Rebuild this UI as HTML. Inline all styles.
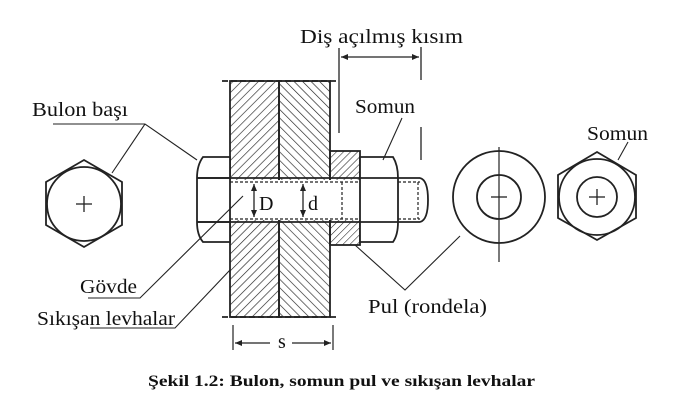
<!DOCTYPE html>
<html><head><meta charset="utf-8"><style>
html,body{margin:0;padding:0;background:#fff}
svg{display:block}
text{font-family:"Liberation Serif",serif;fill:#111}
</style></head><body>
<svg width="673" height="407" viewBox="0 0 673 407" xmlns="http://www.w3.org/2000/svg">
<defs>
<pattern id="h1" width="6" height="6" patternUnits="userSpaceOnUse" patternTransform="rotate(45)"><line x1="0" y1="0" x2="0" y2="6" stroke="#222" stroke-width="1.3"/></pattern>
<pattern id="h2" width="6" height="6" patternUnits="userSpaceOnUse" patternTransform="rotate(-45)"><line x1="0" y1="0" x2="0" y2="6" stroke="#222" stroke-width="1.3"/></pattern>
<pattern id="h3" width="5" height="5" patternUnits="userSpaceOnUse" patternTransform="rotate(45)"><line x1="0" y1="0" x2="0" y2="5" stroke="#222" stroke-width="1.1"/></pattern>
</defs>
<g stroke="#222" stroke-width="1.8" fill="none">
<rect x="230" y="81" width="49" height="236" fill="url(#h1)"/>
<rect x="279" y="81" width="51" height="236" fill="url(#h2)"/>
<line x1="222" y1="81" x2="338" y2="81" stroke-dasharray="6,3"/>
<line x1="222" y1="317" x2="338" y2="317" stroke-dasharray="6,3"/>
<rect x="330" y="151" width="30" height="94" fill="url(#h3)"/>
<rect x="230" y="180" width="130" height="40" fill="#fff" stroke="none"/>
<path d="M203 157 H230 V242 H203 Q197 235 197 222 V178 Q197 165 203 157Z" fill="#fff"/>
<line x1="197" y1="178" x2="230" y2="178"/><line x1="197" y1="222" x2="230" y2="222"/>
<line x1="197" y1="178" x2="420" y2="178"/><line x1="197" y1="222" x2="420" y2="222"/>
<g stroke-width="1.2" stroke-dasharray="3,2"><line x1="230" y1="182" x2="360" y2="182"/><line x1="230" y1="219" x2="360" y2="219"/><line x1="342" y1="182" x2="342" y2="219"/><line x1="398" y1="182" x2="420" y2="182"/><line x1="398" y1="219" x2="420" y2="219"/><line x1="418" y1="182" x2="418" y2="219"/></g>
<path d="M360 157 H393 Q398 165 398 178 V222 Q398 235 393 242 H360Z" fill="#fff"/>
<line x1="360" y1="178" x2="398" y2="178"/><line x1="360" y1="222" x2="398" y2="222"/>
<path d="M420 178 Q428 180 428 200 Q428 220 420 222"/>
<line x1="254" y1="184" x2="254" y2="217" stroke-width="1.3"/>
<line x1="303" y1="184" x2="303" y2="217" stroke-width="1.3"/>
<line x1="339" y1="48" x2="339" y2="133" stroke-width="1.3"/>
<line x1="421" y1="47" x2="421" y2="80" stroke-width="1.3"/>
<line x1="421" y1="127" x2="421" y2="160" stroke-width="1.3"/>
<line x1="341" y1="57" x2="419" y2="57" stroke-width="1.2"/>
<line x1="233" y1="325" x2="233" y2="350" stroke-width="1.2"/>
<line x1="333" y1="325" x2="333" y2="350" stroke-width="1.2"/>
<line x1="235" y1="343" x2="270" y2="343" stroke-width="1.2"/><line x1="292" y1="343" x2="331" y2="343" stroke-width="1.2"/>
<polygon points="84,160 122,182 122,225 84,247 46,225 46,182"/>
<circle cx="84" cy="204" r="37"/>
<line x1="76" y1="204" x2="92" y2="204" stroke-width="1.3"/><line x1="84" y1="196" x2="84" y2="212" stroke-width="1.3"/>
<circle cx="499" cy="197" r="46"/><circle cx="499" cy="197" r="22"/>
<line x1="499" y1="147" x2="499" y2="262" stroke-width="1.2"/>
<line x1="491" y1="197" x2="507" y2="197" stroke-width="1.3"/>
<polygon points="597,152 636,175 636,218 597,240 558,218 558,175"/>
<circle cx="597" cy="197" r="38"/><circle cx="597" cy="197" r="20"/>
<line x1="589" y1="197" x2="605" y2="197" stroke-width="1.3"/><line x1="597" y1="189" x2="597" y2="205" stroke-width="1.3"/>
<g stroke-width="1.1">
<path d="M53 124 L145 124 L197 160"/>
<line x1="145" y1="124" x2="112" y2="173"/>
<line x1="402" y1="118" x2="383" y2="160"/>
<line x1="628" y1="142" x2="618" y2="160"/>
<path d="M88 298 L140 298 L243 196"/>
<path d="M90 328 L175 328 L230 270"/>
<path d="M355 245 L405 290 L460 236"/>
</g>
</g>
<g fill="#222">
<polygon points="341,57 348,54 348,60"/><polygon points="419,57 412,54 412,60"/>
<polygon points="235,343 242,340 242,346"/><polygon points="331,343 324,340 324,346"/>
<polygon points="254,184 251,191 257,191"/><polygon points="254,217 251,210 257,210"/>
<polygon points="303,184 300,191 306,191"/><polygon points="303,217 300,210 306,210"/>
</g>
<g font-size="20" lengthAdjust="spacingAndGlyphs">
<text x="300" y="43" textLength="163" lengthAdjust="spacingAndGlyphs">Diş açılmış kısım</text>
<text x="32" y="116" textLength="96" lengthAdjust="spacingAndGlyphs">Bulon başı</text>
<text x="355" y="113" textLength="60" lengthAdjust="spacingAndGlyphs">Somun</text>
<text x="587" y="140" textLength="61" lengthAdjust="spacingAndGlyphs">Somun</text>
<text x="259" y="210">D</text>
<text x="308" y="210">d</text>
<text x="80" y="293" textLength="57" lengthAdjust="spacingAndGlyphs">Gövde</text>
<text x="37" y="325" textLength="138" lengthAdjust="spacingAndGlyphs">Sıkışan levhalar</text>
<text x="368" y="313" textLength="119" lengthAdjust="spacingAndGlyphs">Pul (rondela)</text>
<text x="278" y="348">s</text>
</g>
<text x="148" y="386" font-size="16" font-weight="bold" textLength="387" lengthAdjust="spacingAndGlyphs">Şekil 1.2: Bulon, somun pul ve sıkışan levhalar</text>
</svg>
</body></html>
